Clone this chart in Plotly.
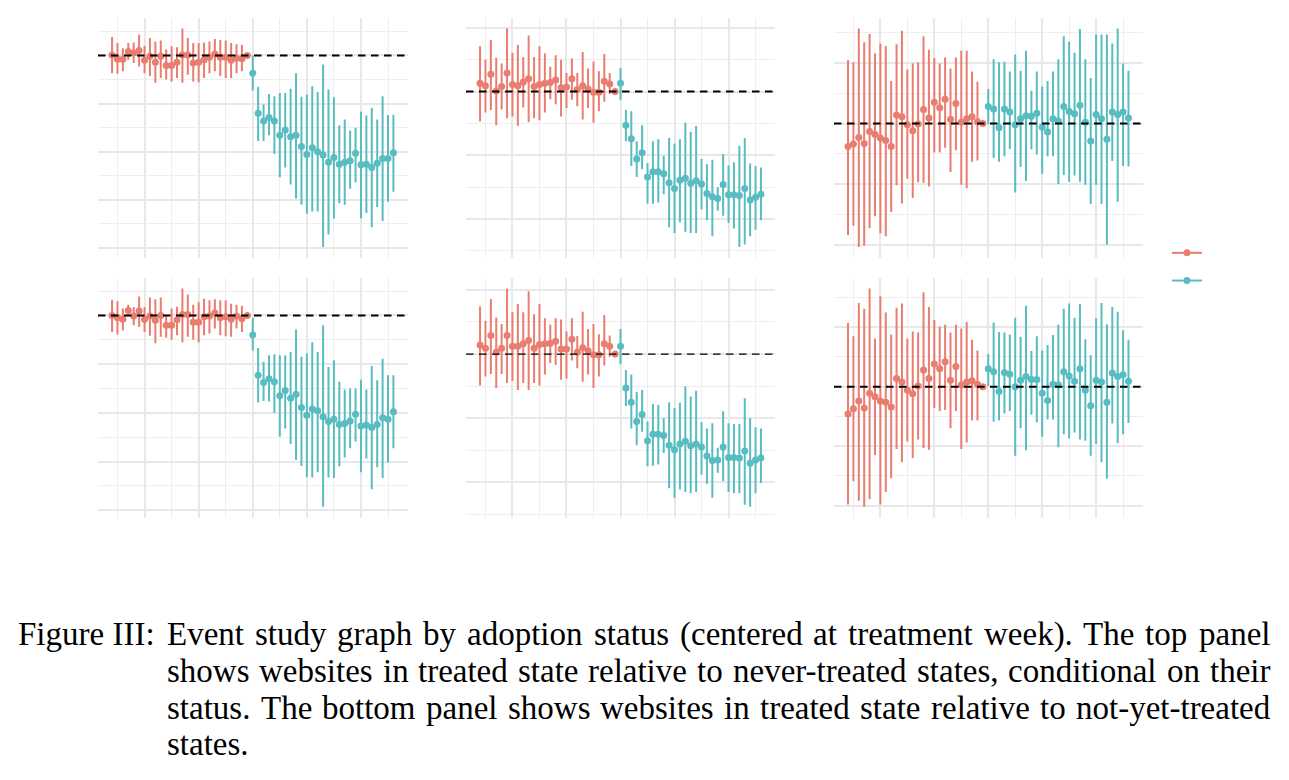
import plotly.graph_objects as go

# ---------------- data (event time in weeks, estimates and 95% CI) ----------------
WEEKS = [-26, -25, -24, -23, -22, -21, -20, -19, -18, -17, -16, -15, -14, -13, -12, -11, -10,
         -9, -8, -7, -6, -5, -4, -3, -2, -1, 0, 1, 2, 3, 4, 5, 6, 7, 8, 9, 10, 11, 12, 13, 14,
         15, 16, 17, 18, 19, 20, 21, 22, 23, 24, 25, 26]

# Panel 1 (top-left)
P1_EST = [0.001, -0.008, -0.008, 0.008, 0.005, 0.010, -0.010, -0.002, -0.014, -0.002, -0.021, -0.021, -0.014,
          0.001, 0.001, -0.016, -0.014, -0.009, -0.004, 0.003, -0.004, -0.004, -0.010, -0.006, -0.007, 0.0,
          -0.037, -0.120, -0.136, -0.129, -0.136, -0.166, -0.155, -0.169, -0.166, -0.189, -0.206, -0.192, -0.200,
          -0.207, -0.222, -0.212, -0.226, -0.222, -0.219, -0.203, -0.227, -0.226, -0.233, -0.224, -0.214, -0.214, -0.202]
P1_HI = [0.038, 0.026, 0.015, 0.026, 0.027, 0.043, 0.020, 0.036, 0.029, 0.031, 0.012, 0.019, 0.017,
         0.056, 0.036, 0.026, 0.026, 0.027, 0.029, 0.034, 0.032, 0.031, 0.026, 0.023, 0.022, 0.0,
         0.000, -0.065, -0.102, -0.080, -0.085, -0.078, -0.078, -0.069, -0.037, -0.086, -0.081, -0.064, -0.076,
         -0.019, -0.071, -0.087, -0.145, -0.133, -0.156, -0.150, -0.117, -0.125, -0.109, -0.133, -0.085, -0.124, -0.123]
P1_LO = [-0.037, -0.038, -0.033, -0.009, -0.016, -0.023, -0.037, -0.043, -0.057, -0.047, -0.050, -0.054, -0.047,
         -0.057, -0.040, -0.054, -0.056, -0.047, -0.037, -0.033, -0.043, -0.047, -0.047, -0.037, -0.033, 0.0,
         -0.073, -0.178, -0.178, -0.166, -0.205, -0.253, -0.233, -0.268, -0.297, -0.310, -0.329, -0.324, -0.324,
         -0.398, -0.372, -0.339, -0.307, -0.310, -0.277, -0.264, -0.338, -0.327, -0.357, -0.315, -0.344, -0.304, -0.283]

# Panel 2 (top-middle)
P2_EST = [0.013, 0.009, 0.027, 0.001, 0.008, 0.029, 0.011, 0.009, 0.015, 0.020, 0.008, 0.011, 0.013,
          0.014, 0.018, 0.006, 0.007, 0.020, 0.003, 0.009, 0.004, -0.001, -0.001, 0.016, 0.012, 0.0,
          0.013, -0.053, -0.074, -0.106, -0.096, -0.134, -0.126, -0.126, -0.129, -0.143, -0.152, -0.139, -0.136,
          -0.144, -0.140, -0.145, -0.160, -0.165, -0.168, -0.146, -0.162, -0.162, -0.163, -0.152, -0.170, -0.166, -0.161]
P2_HI = [0.071, 0.050, 0.081, 0.053, 0.044, 0.099, 0.061, 0.073, 0.054, 0.088, 0.054, 0.071, 0.060,
         0.039, 0.057, 0.050, 0.029, 0.052, 0.029, 0.062, 0.036, 0.047, 0.032, 0.059, 0.029, 0.0,
         0.037, -0.029, -0.031, -0.078, -0.053, -0.112, -0.078, -0.075, -0.101, -0.073, -0.082, -0.075, -0.049,
         -0.063, -0.054, -0.106, -0.114, -0.107, -0.150, -0.098, -0.116, -0.111, -0.085, -0.073, -0.113, -0.117, -0.119]
P2_LO = [-0.047, -0.033, -0.029, -0.053, -0.028, -0.042, -0.039, -0.054, -0.025, -0.048, -0.042, -0.045, -0.033,
         -0.012, -0.020, -0.039, -0.026, -0.013, -0.023, -0.044, -0.026, -0.049, -0.031, -0.016, -0.004, 0.0,
         -0.013, -0.078, -0.117, -0.134, -0.122, -0.176, -0.176, -0.174, -0.161, -0.213, -0.222, -0.205, -0.220,
         -0.222, -0.222, -0.185, -0.202, -0.227, -0.187, -0.195, -0.206, -0.215, -0.244, -0.240, -0.227, -0.217, -0.202]

# Panel 3 (top-right)
P3_EST = [-0.038, -0.034, -0.023, -0.033, -0.013, -0.018, -0.024, -0.028, -0.038, 0.014, 0.011, -0.002, -0.012,
          -0.001, 0.023, 0.009, 0.035, 0.026, 0.040, 0.007, 0.033, 0.002, 0.008, 0.011, 0.003, 0.0,
          0.028, 0.024, -0.007, 0.024, 0.019, -0.002, 0.008, 0.013, 0.012, 0.017, -0.006, -0.014, 0.008,
          0.004, 0.028, 0.020, 0.016, 0.030, 0.002, -0.029, 0.015, 0.008, -0.026, 0.019, 0.015, 0.019, 0.009]
P3_HI = [0.105, 0.101, 0.157, 0.134, 0.148, 0.116, 0.132, 0.128, 0.070, 0.131, 0.153, 0.089, 0.099,
         0.101, 0.144, 0.122, 0.108, 0.099, 0.109, 0.091, 0.109, 0.120, 0.120, 0.086, 0.069, 0.0,
         0.057, 0.106, 0.101, 0.102, 0.086, 0.114, 0.087, 0.120, 0.054, 0.086, 0.061, 0.070, 0.086,
         0.106, 0.144, 0.135, 0.117, 0.156, 0.106, 0.075, 0.147, 0.147, 0.147, 0.132, 0.157, 0.099, 0.087]
P3_LO = [-0.184, -0.169, -0.204, -0.202, -0.173, -0.153, -0.181, -0.186, -0.146, -0.102, -0.132, -0.091, -0.123,
         -0.097, -0.098, -0.104, -0.048, -0.048, -0.040, -0.080, -0.044, -0.101, -0.107, -0.063, -0.061, 0.0,
         -0.001, -0.057, -0.063, -0.054, -0.042, -0.114, -0.072, -0.095, -0.043, -0.051, -0.083, -0.054, -0.054,
         -0.100, -0.085, -0.096, -0.086, -0.096, -0.101, -0.133, -0.101, -0.133, -0.200, -0.062, -0.129, -0.070, -0.071]

# Panel 4 (bottom-left)
P4_EST = [0.000, -0.005, -0.008, 0.010, -0.001, 0.009, -0.008, -0.001, -0.010, 0.000, -0.020, -0.020, -0.009,
          0.002, 0.002, -0.014, -0.014, -0.003, -0.001, 0.005, -0.005, -0.003, -0.008, -0.001, -0.007, 0.0,
          -0.040, -0.123, -0.138, -0.130, -0.136, -0.165, -0.154, -0.170, -0.162, -0.189, -0.205, -0.192, -0.196,
          -0.208, -0.218, -0.213, -0.224, -0.222, -0.217, -0.203, -0.227, -0.225, -0.230, -0.224, -0.210, -0.213, -0.198]
P4_HI = [0.032, 0.029, 0.014, 0.022, 0.017, 0.039, 0.017, 0.037, 0.033, 0.037, 0.001, 0.014, 0.018,
         0.055, 0.043, 0.022, 0.027, 0.034, 0.031, 0.033, 0.031, 0.031, 0.024, 0.022, 0.020, 0.0,
         -0.005, -0.067, -0.095, -0.082, -0.080, -0.082, -0.082, -0.075, -0.029, -0.085, -0.078, -0.055, -0.075,
         -0.020, -0.106, -0.092, -0.136, -0.152, -0.150, -0.150, -0.132, -0.152, -0.104, -0.133, -0.089, -0.123, -0.123]
P4_LO = [-0.034, -0.039, -0.031, -0.003, -0.020, -0.024, -0.034, -0.042, -0.057, -0.044, -0.046, -0.050, -0.041,
         -0.055, -0.044, -0.050, -0.055, -0.041, -0.037, -0.027, -0.041, -0.043, -0.044, -0.027, -0.034, 0.0,
         -0.072, -0.179, -0.176, -0.177, -0.200, -0.249, -0.232, -0.264, -0.297, -0.309, -0.332, -0.333, -0.322,
         -0.393, -0.333, -0.334, -0.310, -0.292, -0.273, -0.259, -0.322, -0.294, -0.357, -0.312, -0.334, -0.302, -0.273]

# Panel 5 (bottom-middle)
P5_EST = [0.014, 0.009, 0.029, 0.003, 0.009, 0.029, 0.012, 0.012, 0.016, 0.021, 0.009, 0.015, 0.016,
          0.017, 0.020, 0.008, 0.008, 0.023, 0.003, 0.010, 0.005, -0.001, -0.001, 0.016, 0.012, 0.0,
          0.012, -0.053, -0.075, -0.105, -0.094, -0.135, -0.125, -0.125, -0.127, -0.142, -0.149, -0.140, -0.136,
          -0.143, -0.140, -0.145, -0.159, -0.166, -0.165, -0.145, -0.161, -0.161, -0.162, -0.151, -0.170, -0.165, -0.162]
P5_HI = [0.074, 0.052, 0.086, 0.057, 0.047, 0.102, 0.065, 0.078, 0.065, 0.098, 0.062, 0.078, 0.056,
         0.046, 0.056, 0.054, 0.035, 0.056, 0.028, 0.066, 0.039, 0.047, 0.031, 0.061, 0.029, 0.0,
         0.039, -0.025, -0.032, -0.059, -0.056, -0.105, -0.078, -0.079, -0.100, -0.075, -0.084, -0.076, -0.050,
         -0.066, -0.057, -0.106, -0.116, -0.108, -0.146, -0.089, -0.108, -0.109, -0.109, -0.069, -0.100, -0.114, -0.116]
P5_LO = [-0.049, -0.035, -0.031, -0.053, -0.031, -0.045, -0.042, -0.056, -0.045, -0.056, -0.045, -0.049, -0.032,
         -0.014, -0.017, -0.040, -0.038, -0.010, -0.022, -0.043, -0.032, -0.053, -0.035, -0.018, -0.004, 0.0,
         -0.016, -0.081, -0.116, -0.142, -0.121, -0.175, -0.174, -0.172, -0.154, -0.209, -0.224, -0.211, -0.215,
         -0.217, -0.215, -0.188, -0.202, -0.224, -0.185, -0.198, -0.215, -0.217, -0.217, -0.235, -0.238, -0.217, -0.201]

# Panel 6 (bottom-right)
P6_EST = [-0.046, -0.037, -0.024, -0.036, -0.011, -0.017, -0.024, -0.026, -0.034, 0.014, 0.008, -0.006, -0.012,
          0.001, 0.028, 0.014, 0.038, 0.030, 0.042, 0.011, 0.034, 0.003, 0.008, 0.010, 0.004, 0.0,
          0.030, 0.025, -0.008, 0.024, 0.021, 0.000, 0.011, 0.017, 0.012, 0.012, -0.011, -0.023, 0.004,
          0.003, 0.025, 0.018, 0.009, 0.030, -0.006, -0.032, 0.011, 0.008, -0.026, 0.023, 0.017, 0.020, 0.009]
P6_HI = [0.107, 0.085, 0.141, 0.131, 0.165, 0.081, 0.152, 0.125, 0.088, 0.133, 0.140, 0.081, 0.093,
         0.091, 0.159, 0.134, 0.112, 0.101, 0.104, 0.091, 0.104, 0.098, 0.109, 0.079, 0.061, 0.0,
         0.055, 0.108, 0.092, 0.091, 0.088, 0.116, 0.084, 0.136, 0.060, 0.085, 0.061, 0.070, 0.087,
         0.104, 0.131, 0.140, 0.116, 0.139, 0.080, 0.053, 0.115, 0.141, 0.105, 0.134, 0.126, 0.095, 0.079]
P6_LO = [-0.198, -0.159, -0.192, -0.202, -0.189, -0.115, -0.198, -0.177, -0.154, -0.105, -0.127, -0.092, -0.120,
         -0.089, -0.103, -0.106, -0.036, -0.041, -0.039, -0.070, -0.041, -0.105, -0.094, -0.057, -0.057, 0.0,
         0.001, -0.059, -0.057, -0.045, -0.041, -0.116, -0.070, -0.107, -0.047, -0.060, -0.084, -0.055, -0.055,
         -0.102, -0.080, -0.087, -0.077, -0.089, -0.091, -0.116, -0.096, -0.127, -0.155, -0.062, -0.095, -0.080, -0.061]

CAPTION_LABEL = "Figure III:"
CAPTION_LINES = [
    "Event study graph by adoption status (centered at treatment week). The top panel",
    "shows websites in treated state relative to never-treated states, conditional on their",
    "status. The bottom panel shows websites in treated state relative to not-yet-treated",
    "states.",
]

# ---------------- style / layout ----------------
W, H = 1289, 780
RED = "#E97D70"
TEAL = "#58BCC1"
GRID_MAJOR = "#E8E8E8"
GRID_MINOR = "#EEEEEE"

COL_X = [(98, 407.5), (466, 775), (834, 1142.5)]
ROW_Y = [(17.5, 258), (277.7, 517.7)]
DASH_W = [2, 2, 2, 2, 1.3, 2]

panels = [(P1_EST, P1_LO, P1_HI), (P2_EST, P2_LO, P2_HI), (P3_EST, P3_LO, P3_HI),
          (P4_EST, P4_LO, P4_HI), (P5_EST, P5_LO, P5_HI), (P6_EST, P6_LO, P6_HI)]

fig = go.Figure()
layout = {}
shapes = []
xmin, xmax = min(WEEKS), max(WEEKS)
xpad = 0.05 * (xmax - xmin)

for i, (est, lo, hi) in enumerate(panels):
    r, c = divmod(i, 3)
    n = i + 1
    xa = "x" if n == 1 else f"x{n}"
    ya = "y" if n == 1 else f"y{n}"
    for is_post, color in ((False, RED), (True, TEAL)):
        idx = [k for k, w in enumerate(WEEKS) if (w >= 0) == is_post]
        xs = [WEEKS[k] for k in idx]
        ys = [est[k] for k in idx]
        up = [hi[k] - est[k] for k in idx]
        dn = [est[k] - lo[k] for k in idx]
        fig.add_trace(go.Scatter(
            x=xs, y=ys, mode="markers", xaxis=xa, yaxis=ya, showlegend=False,
            marker=dict(color=color, size=7, line=dict(width=0)),
            error_y=dict(type="data", symmetric=False, array=up, arrayminus=dn,
                         color=color, thickness=2, width=0),
            hoverinfo="x+y"))
    ymin, ymax = min(lo), max(hi)
    ypad = 0.05 * (ymax - ymin)
    x0, x1 = COL_X[c]
    y0, y1 = ROW_Y[r]
    key = "" if n == 1 else str(n)
    layout["xaxis" + key] = dict(
        domain=[x0 / W, x1 / W], anchor=ya, range=[xmin - xpad, xmax + xpad],
        showticklabels=False, ticks="", showline=False, zeroline=False,
        tick0=0, dtick=10, showgrid=True, gridcolor=GRID_MAJOR, gridwidth=1.6,
        minor=dict(tick0=0, dtick=5, showgrid=True, gridcolor=GRID_MINOR, gridwidth=1.0, ticks=""))
    layout["yaxis" + key] = dict(
        domain=[1 - y1 / H, 1 - y0 / H], anchor=xa, range=[ymin - ypad, ymax + ypad],
        showticklabels=False, ticks="", showline=False, zeroline=False,
        tick0=0, dtick=0.1, showgrid=True, gridcolor=GRID_MAJOR, gridwidth=1.6,
        minor=dict(tick0=0, dtick=0.05, showgrid=True, gridcolor=GRID_MINOR, gridwidth=1.0, ticks=""))
    shapes.append(dict(type="line", xref=f"{xa} domain", yref=ya, x0=0, x1=1, y0=0, y1=0,
                       line=dict(color="black", width=DASH_W[i], dash="7.5px,5.5px"), layer="above"))

# legend keys (no data, legend only)
for color in (RED, TEAL):
    fig.add_trace(go.Scatter(x=[None], y=[None], mode="lines+markers", name="",
                             marker=dict(color=color, size=7), line=dict(color=color, width=2),
                             showlegend=True, xaxis="x", yaxis="y"))

# ---------------- caption (justified, Times metrics) ----------------
TIMES = {' ': 250, 'a': 444, 'b': 500, 'c': 444, 'd': 500, 'e': 444, 'f': 333, 'g': 500, 'h': 500,
         'i': 278, 'j': 278, 'k': 500, 'l': 278, 'm': 778, 'n': 500, 'o': 500, 'p': 500, 'q': 500,
         'r': 333, 's': 389, 't': 278, 'u': 500, 'v': 500, 'w': 722, 'x': 500, 'y': 500, 'z': 444,
         'E': 611, 'F': 556, 'I': 333, 'T': 611, ':': 278, '(': 333, ')': 333, '.': 250, ',': 250,
         '-': 333}
FS = 33
FONT = dict(family="Liberation Serif", size=FS, color="black")


def tw(s):
    return sum(TIMES.get(ch, 500) for ch in s) * FS / 1000.0


annotations = []


def put(word, xpx, base):
    annotations.append(dict(text=word, x=xpx / W, y=1 - (base - 0.3 * FS) / H, xref="paper", yref="paper",
                            xanchor="left", yanchor="middle", showarrow=False, font=FONT,
                            borderpad=0, borderwidth=0))


BASES = [644, 681, 717.5, 754]
LEFT0, INDENT, RIGHT = 18, 167, 1270
put(CAPTION_LABEL, LEFT0, BASES[0])
for li, line in enumerate(CAPTION_LINES):
    words = line.split(" ")
    justify = li < len(CAPTION_LINES) - 1
    widths = [tw(w) for w in words]
    if justify and len(words) > 1:
        gap = (RIGHT - INDENT - sum(widths)) / (len(words) - 1)
    else:
        gap = tw(" ")
    xcur = INDENT
    for w, wd in zip(words, widths):
        put(w, xcur, BASES[li])
        xcur += wd + gap

fig.update_layout(
    width=W, height=H, margin=dict(l=0, r=0, t=0, b=0),
    paper_bgcolor="white", plot_bgcolor="white",
    shapes=shapes, annotations=annotations,
    legend=dict(x=1167 / W, y=1 - 234 / H, xanchor="left", yanchor="top",
                font=dict(size=19), itemwidth=30, bgcolor="rgba(0,0,0,0)"),
    **layout)

fig.write_html("out.html")
